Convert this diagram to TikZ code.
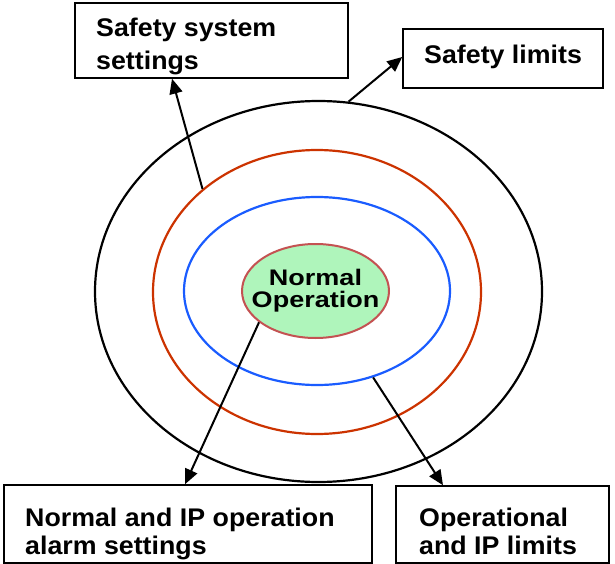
\documentclass[tikz,border=0pt]{standalone}
\usepackage{fontspec}
\newfontfamily\boxfont[FakeStretch=1.05]{Liberation Sans}
\newfontfamily\ovalfont[FakeStretch=1.2]{Liberation Sans}
\usetikzlibrary{shapes.geometric,arrows.meta}
\definecolor{ringred}{RGB}{204,51,0}
\definecolor{ringblue}{RGB}{26,92,255}
\definecolor{normfill}{RGB}{175,245,187}
\definecolor{normedge}{RGB}{196,82,82}
\tikzset{
  ring/.style={ellipse, draw, line width=2.2pt, inner sep=0pt},
  labelbox/.style={draw, line width=1.5pt, inner sep=0pt, rectangle},
  boxtext/.style={anchor=base west, inner sep=0pt, font=\boxfont\bfseries\fontsize{25.5}{30}\selectfont},
  ovaltext/.style={anchor=center, align=center, inner sep=0pt, font=\ovalfont\bfseries\fontsize{22.5}{22}\selectfont},
  pointer/.style={line width=2pt, -{Triangle[length=15pt,width=13pt]}}
}
\begin{document}
\begin{tikzpicture}[x=1pt,y=-1pt]
\useasboundingbox[fill=white] (0,0) rectangle (615,564);
% rings
\node[ring, draw=black, minimum width=447pt, minimum height=381pt] (outer) at (318.5,291.5) {};
\node[ring, draw=ringred, minimum width=328pt, minimum height=284pt] (redring) at (317,292) {};
\node[ring, draw=ringblue, minimum width=266pt, minimum height=188pt] (bluering) at (317,291) {};
\node[ellipse, draw=normedge, fill=normfill, line width=2pt, inner sep=0pt, minimum width=147pt, minimum height=94pt] (normal) at (315.5,291) {};
\node[ovaltext] (nt) at (315.5,291) {Normal\\Operation};
% boxes
\node[labelbox, minimum width=273pt, minimum height=75pt] (ssbox) at (211.5,40.5) {};
\node[boxtext] (ss1) at (96,36.7) {Safety system};
\node[boxtext] (ss2) at (96,69.3) {settings};
\node[labelbox, minimum width=200pt, minimum height=59pt] (slbox) at (503,58.5) {};
\node[boxtext] (sl1) at (424,63.3) {Safety limits};
\node[labelbox, minimum width=368pt, minimum height=78pt] (nbox) at (188,524) {};
\node[boxtext] (nb1) at (25,526.7) {Normal and IP operation};
\node[boxtext] (nb2) at (25,554.5) {alarm settings};
\node[labelbox, minimum width=213pt, minimum height=77pt] (obox) at (502.5,524.5) {};
\node[boxtext] (ob1) at (419,526.3) {Operational};
\node[boxtext] (ob2) at (419,554.5) {and IP limits};
% arrows
\draw[pointer] (redring.138) -- ([xshift=-39.5pt]ssbox.south);
\draw[pointer] (outer.81) -- ([yshift=1.5pt]slbox.west);
\draw[pointer] (normal.209) -- ([xshift=-3pt]nbox.north);
\draw[pointer] (bluering.303) -- ([xshift=-59.5pt]obox.north);
\end{tikzpicture}
\end{document}
